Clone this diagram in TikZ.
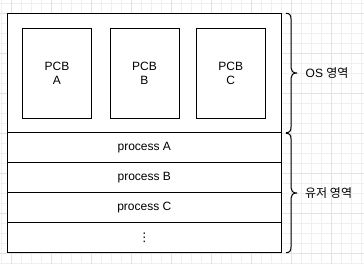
\documentclass[tikz,border=0pt]{standalone}
\usepackage{fontspec}
\setmainfont{Liberation Sans}
\newfontfamily\kr{Noto Sans CJK KR}
\newfontfamily\dejavu{DejaVu Sans}
\begin{document}
\begin{tikzpicture}[x=1pt,y=-1pt,
  txt/.style={font=\fontsize{12}{14.4}\selectfont, text=black},
  cell/.style={draw=black, line width=1pt, fill=white, inner sep=0pt,
    minimum width=274pt, txt},
  pcb/.style={draw=black, line width=1pt, fill=white, inner sep=0pt,
    minimum width=69pt, minimum height=90pt, align=center, txt},
  bracket/.style={draw=black, line width=1pt, line join=round},
  lbl/.style={anchor=west, inner sep=0pt, txt},
  gridminor/.style={draw=black!6, line width=0.8pt},
  gridmajor/.style={draw=black!11, line width=0.8pt}]
\useasboundingbox (0,0) rectangle (364,264);
\fill[white] (0,0) rectangle (364,264);

% background grid
\foreach \i in {0,...,36} {
  \pgfmathsetmacro\gx{1+10*\i}
  \draw[gridminor] (\gx,0) -- (\gx,264);
}
\foreach \i in {0,...,26} {
  \pgfmathsetmacro\gy{3.3+10*\i}
  \draw[gridminor] (0,\gy) -- (364,\gy);
}
\foreach \i in {0,...,9} {
  \pgfmathsetmacro\gx{11+40*\i}
  \draw[gridmajor] (\gx,0) -- (\gx,264);
}
\foreach \i in {0,...,6} {
  \pgfmathsetmacro\gy{13.3+40*\i}
  \draw[gridmajor] (0,\gy) -- (364,\gy);
}

% memory layout
\node[cell, minimum height=119.7pt] (os) at (144.3,73.15) {};
\node[cell, minimum height=30pt] (pa) at (144.3,148) {process A};
\node[cell, minimum height=30pt] (pb) at (144.3,178) {process B};
\node[cell, minimum height=30pt] (pc) at (144.3,208) {process C};
\node[cell, minimum height=29.7pt] (pd) at (144.3,237.85) {\dejavu ⋮};

% process control blocks
\node[pcb] (pcba) at (57,73.3) {PCB\\A};
\node[pcb] (pcbb) at (144.5,73.3) {PCB\\B};
\node[pcb] (pcbc) at (230.8,73.3) {PCB\\C};

% brackets
\coordinate (ost) at (286,13.3);
\coordinate (osb) at (286,132.7);
\coordinate (ostip) at (297,73);
\draw[bracket] (ost) .. controls (289.5,13.3) and (291,15) .. (291,19)
  -- (291,68) .. controls (291,71) and (293,73) .. (ostip)
  (ostip) .. controls (293,73) and (291,75) .. (291,78)
  -- (291,127) .. controls (291,131) and (289.5,132.7) .. (osb);
\coordinate (ust) at (286,133.3);
\coordinate (usb) at (286,252.7);
\coordinate (ustip) at (297,193);
\draw[bracket] (ust) .. controls (289.5,133.3) and (291,135) .. (291,139)
  -- (291,188) .. controls (291,191) and (293,193) .. (ustip)
  (ustip) .. controls (293,193) and (291,195) .. (291,198)
  -- (291,247) .. controls (291,251) and (289.5,252.7) .. (usb);

\node[lbl] (oslabel) at (305.5,73.5) {OS {\kr 영역}};
\node[lbl] (uslabel) at (305,193.5) {{\kr 유저 영역}};
\end{tikzpicture}
\end{document}
